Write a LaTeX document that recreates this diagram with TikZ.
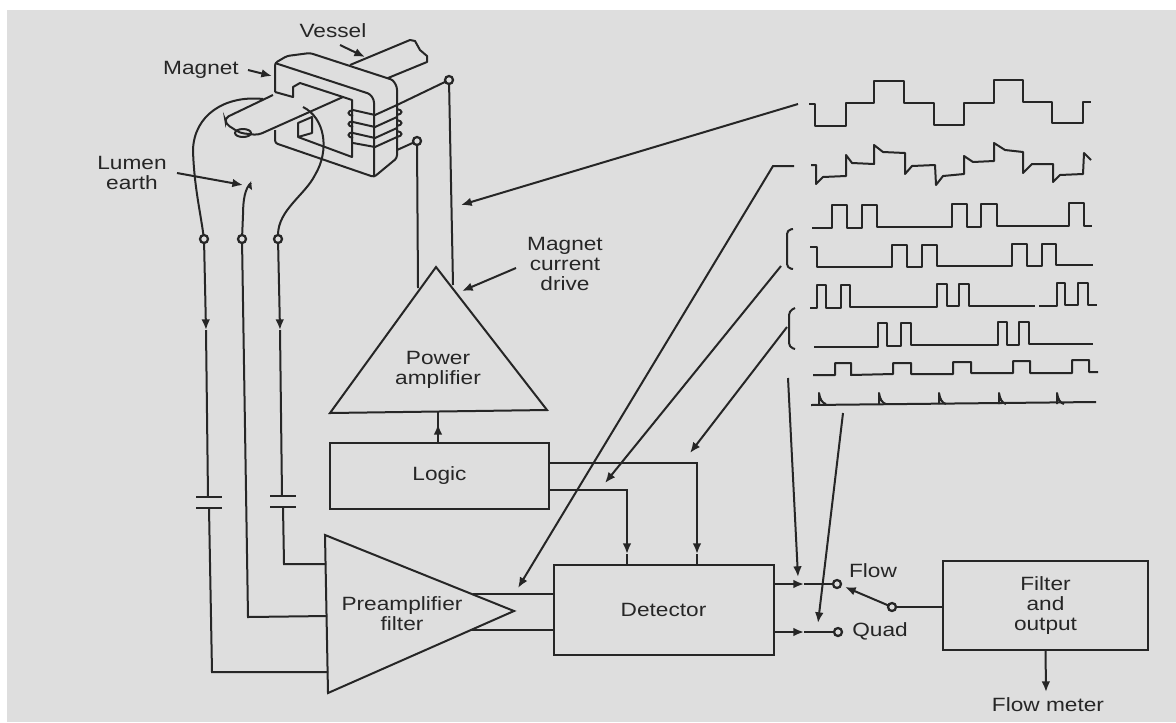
\documentclass[tikz,border=0pt]{standalone}
\usepackage{fontspec}
\setmainfont[FakeStretch=1.18]{Liberation Sans}
\usepackage{tikz}
\usetikzlibrary{arrows.meta}

\definecolor{paper}{HTML}{DEDEDE}
\definecolor{ink}{HTML}{262626}

\begin{document}
\begin{tikzpicture}[
        x=0.75pt, y=-0.75pt,
        >={Latex[length=8pt,width=6.5pt]},
        line width=1.5pt,
        draw=ink,
        lbl/.style={align=center, text=ink, inner sep=0pt, font=\fontsize{14.4}{15}\selectfont},
        blockbox/.style={draw=ink, fill=paper, outer sep=0pt, inner sep=0pt, align=center, text=ink, font=\fontsize{14.4}{15}\selectfont, minimum width=#1},
        terminal/.style={circle, draw=ink, fill=paper, line width=1.7pt, inner sep=0pt, minimum size=6pt, outer sep=0pt},
        trace/.style={line width=1.5pt, line join=round}
    ]
        \useasboundingbox (0,0) rectangle (1176,722);
        \fill[paper] (7,10) rectangle (1176,722);

        % blocks
        \node[blockbox=164pt, minimum height=49pt] (logic) at (439.5,476) {Logic};
        \node[blockbox=165pt, minimum height=67pt] (detector) at (663.5,610) {Detector};
        \node[blockbox=154pt, minimum height=67pt] (filter) at (1045.5,605.5) {Filter\\and\\output};

        % amplifiers
        \coordinate (powertop) at (436,267);
        \coordinate (powerl) at (330,413);
        \coordinate (powerr) at (547,410);
        \coordinate (powerb) at (438,412);
        \coordinate (preatop) at (325,535);
        \coordinate (preabot) at (328,693);
        \coordinate (preatip) at (514,611);
        \draw (powertop) -- (powerr) -- (powerl) -- cycle;
        \draw (preatop) -- (preatip) -- (preabot) -- cycle;
        \node[lbl] (powerlabel) at (438,370) {Power\\amplifier};
        \node[lbl] (prealabel) at (402,613.5) {Preamplifier\\filter};

        % terminals
        \node[terminal] (t1) at (204,239) {};
        \node[terminal] (t2) at (242,239) {};
        \node[terminal] (t3) at (278,239) {};
        \node[terminal] (drivea) at (449,80) {};
        \node[terminal] (driveb) at (417,141) {};
        \node[terminal] (flowpin) at (837,584) {};
        \node[terminal] (quadpin) at (838,632) {};
        \node[terminal] (swpin) at (892,607) {};

        % magnet and vessel
        \draw[line join=round] (350,65) -- (410,40) -- (415,41) -- (420,50) -- (427,56) -- (427,62) -- (388,78);
        \draw[line join=round, rounded corners=2pt] (275,92) -- (275,63) -- (287,56) -- (310,53) -- (393,80) -- (397,87) -- (397,158) -- (374,177) -- (275,143) -- (275,130);
        \draw[rounded corners=2pt] (275,63) -- (370,94) -- (374,100) -- (374,177);
        \draw[line join=round] (275,92) -- (293,97) -- (293,87) -- (300,83) -- (343,97) -- (352,100) -- (352,157) -- (298,137) -- (298,123) -- (312,117) -- (312,133) -- (298,137);
        \draw[rounded corners=3pt] (273,95) -- (225,118) -- (226,124) -- (240,133) -- (258,135) -- (343,97);
        \draw (243,133) ellipse [x radius=8, y radius=4];

        % coil
        \draw (353,110) -- (375,115) -- (397,105) -- (drivea);
        \draw (353,122) -- (375,127) -- (397,117);
        \draw (353,133) -- (375,138) -- (397,128);
        \draw (353,143) -- (375,147) -- (397,137);
        \draw (397,150) -- (driveb);
        \foreach \yy in {110,121,132} {
            \draw (353,\yy) .. controls (347,\yy+1) and (347,\yy+5) .. (353,\yy+6);
        }
        \foreach \yy in {109,120,131} {
            \draw (397,\yy) .. controls (403,\yy+1) and (403,\yy+5) .. (397,\yy+6);
        }

        % electrode wires
        \coordinate (electrodea) at (263,99);
        \coordinate (electrodeb) at (303,107);
        \coordinate (earthend) at (251,183);
        \draw (electrodea) .. controls (225,95) and (194,115) .. (193,150) .. controls (194,185) and (200,210) .. (t1);
        \draw (earthend) .. controls (245,188) and (243,200) .. (243,215) -- (t2);
        \draw (electrodeb) .. controls (325,118) and (330,150) .. (315,175) .. controls (305,195) and (278,210) .. (t3);
        \fill[ink] (251,181) -- (252,190) -- (248,187) -- cycle;

        % capacitors
        \coordinate (capatop) at (208,497);
        \coordinate (capabot) at (209,508);
        \coordinate (capbtop) at (282,496);
        \coordinate (capbbot) at (283,507);
        \draw (196,497) -- (222,497);
        \draw (196,508) -- (222,508);
        \draw (270,496) -- (296,496);
        \draw (270,507) -- (296,507);

        % signal path
        \coordinate (arrowa) at (206,330);
        \coordinate (arrowc) at (280,330);
        \draw[->] (t1) -- (arrowa);
        \draw (arrowa) -- (capatop);
        \draw (capabot) -- (212,672) -- (328,672);
        \draw (t2) -- (248,617) -- (327,616);
        \draw[->] (t3) -- (arrowc);
        \draw (arrowc) -- (capbtop);
        \draw (capbbot) -- (284,564) -- (326,564);

        \draw (418,288) -- (driveb);
        \draw (453,285) -- (drivea);
        \draw[->] (logic.north -| powerb) -- (438,424);
        \draw (logic.north -| powerb) -- (powerb);

        \draw (473,594) -- (detector.west |- 0,594);
        \draw (471,630) -- (detector.west |- 0,630);
        \draw[->] (logic.east |- 0,463) -- (697,463) -- (697,554);
        \draw (697,554) -- (detector.north -| 697,0);
        \draw[->] (logic.east |- 0,490) -- (627,490) -- (627,554);
        \draw (627,554) -- (detector.north -| 627,0);

        \draw[->] (detector.east |- flowpin) -- (804,584);
        \draw (804,584) -- (flowpin);
        \draw[->] (detector.east |- quadpin) -- (804,632);
        \draw (804,632) -- (quadpin);
        \draw[->] (swpin) -- (845,587);
        \draw (swpin) -- (filter.west |- swpin);
        \draw[->] (filter.south) -- (1046,692);

        % waveforms
        \draw[trace] (809,104) -- (815,104) -- (815,126) -- (846,126) -- (846,103) -- (874,103) -- (874,81) -- (904,81) -- (904,103) -- (934,103) -- (934,125) -- (964,125) -- (964,103) -- (994,103) -- (994,80) -- (1023,80) -- (1023,102) -- (1052,102) -- (1052,123) -- (1083,123) -- (1083,102) -- (1091,102);
        \draw[trace] (811,165) -- (816,165) -- (816,184) -- (823,177) -- (846,176) -- (846,155) -- (852,163) -- (874,164) -- (874,145) -- (883,152) -- (905,153) -- (905,174) -- (912,166) -- (935,165) -- (936,185) -- (943,176) -- (964,174) -- (964,156) -- (973,162) -- (994,161) -- (994,143) -- (1005,150) -- (1023,152) -- (1023,173) -- (1032,164) -- (1053,164) -- (1053,182) -- (1060,175) -- (1083,174) -- (1084,153) -- (1091,160);
        \draw[trace] (812,228) -- (832,228) -- (832,205) -- (847,205) -- (847,228) -- (862,228) -- (862,205) -- (877,205) -- (877,227) -- (952,227) -- (952,204) -- (967,204) -- (967,227) -- (981,227) -- (981,204) -- (997,204) -- (997,226) -- (1069,226) -- (1069,203) -- (1084,203) -- (1084,226) -- (1092,226);
        \draw[trace] (810,247) -- (817,247) -- (817,267) -- (892,267) -- (892,245) -- (907,245) -- (907,267) -- (922,267) -- (922,245) -- (937,245) -- (937,266) -- (1012,266) -- (1012,244) -- (1027,244) -- (1027,266) -- (1042,266) -- (1042,244) -- (1056,244) -- (1056,265) -- (1093,265);
        \draw[trace] (810,308) -- (817,308) -- (817,285) -- (826,285) -- (826,308) -- (841,308) -- (841,285) -- (850,285) -- (850,307) -- (937,307) -- (937,284) -- (947,284) -- (947,306) -- (959,306) -- (959,284) -- (969,284) -- (969,306) -- (1035,306);
        \draw[trace] (1039,306) -- (1057,306) -- (1057,283) -- (1065,283) -- (1065,305) -- (1078,305) -- (1078,283) -- (1088,283) -- (1088,305) -- (1097,305);
        \draw[trace] (814,347) -- (878,347) -- (878,323) -- (887,323) -- (887,346) -- (901,346) -- (901,323) -- (911,323) -- (911,345) -- (998,345) -- (998,322) -- (1007,322) -- (1007,345) -- (1019,345) -- (1019,322) -- (1029,322) -- (1029,344) -- (1093,344);
        \draw[trace] (813,375) -- (835,375) -- (835,363) -- (851,363) -- (851,375) -- (893,374) -- (893,363) -- (911,363) -- (911,374) -- (953,374) -- (953,362) -- (971,362) -- (971,373) -- (1013,373) -- (1013,361) -- (1030,361) -- (1030,373) -- (1072,373) -- (1072,360) -- (1089,360) -- (1089,372) -- (1098,372);
        \draw[trace] (811,405) -- (1096,402);
        \foreach \xx in {819,879,939,999,1057} {
            \draw[trace] (\xx,404) -- (\xx,393) .. controls (\xx+1,399) and (\xx+3,403) .. (\xx+7,404);
        }

        % brackets
        \draw[line join=round, rounded corners=3pt] (793,229) -- (787,230) -- (787,268) -- (793,269);
        \draw[line join=round, rounded corners=3pt] (795,308) -- (789,311) -- (789,347) -- (795,349);

        % pointers
        \coordinate (wavea) at (798,104);
        \coordinate (waveb) at (794,166);
        \coordinate (waveelbow) at (773,166);
        \coordinate (bracketa) at (781,266);
        \coordinate (bracketb) at (787,327);
        \draw[->] (wavea) -- (461,205);
        \draw[->] (waveb) -- (waveelbow) -- (518,588);
        \draw[->] (bracketa) -- (605,483);
        \draw[->] (bracketb) -- (690,453);
        \draw[->] (788,378) -- (798,577);
        \draw[->] (843,413) -- (818,623);

        % labels
        \node[lbl] (vessel) at (333,31) {Vessel};
        \node[lbl] (magnet) at (201,70) {Magnet};
        \node[lbl] (lumen) at (132,172.5) {Lumen\\earth};
        \node[lbl] (drive) at (565,264) {Magnet\\current\\drive};
        \node[lbl] (flow) at (873,571) {Flow};
        \node[lbl] (quad) at (880,631) {Quad};
        \node[lbl] (meter) at (1048,705) {Flow meter};
        \draw[->] (340,45) -- (365,57);
        \draw[->] (248,70) -- (272,76);
        \draw[->] (177,173) -- (243,185);
        \draw[->] (516,268) -- (462,291);
    \end{tikzpicture}
\end{document}
